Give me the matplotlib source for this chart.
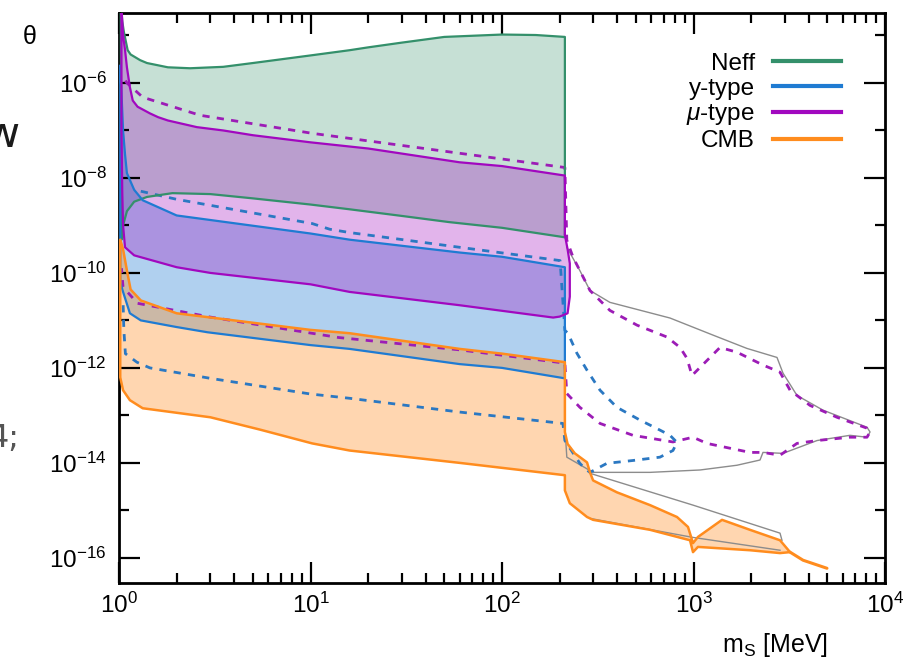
import numpy as np
import matplotlib
matplotlib.use('Agg')
import matplotlib.pyplot as plt
from matplotlib.lines import Line2D
from matplotlib.ticker import LogLocator, NullFormatter, FixedLocator

plt.rcParams['font.family'] = ['Liberation Sans', 'DejaVu Sans']
plt.rcParams['mathtext.fontset'] = 'custom'
plt.rcParams['mathtext.rm'] = 'Liberation Sans'
plt.rcParams['mathtext.it'] = 'Liberation Sans:italic'
plt.rcParams['mathtext.bf'] = 'Liberation Sans:bold'

# ---------------- data (x: m_S in MeV, y: log10 theta) ----------------
neff_hi_x = [1.02, 1.04, 1.06, 1.075, 1.11, 1.15, 1.29, 1.4, 1.8, 2.35, 3.5, 5, 10, 16, 20, 30, 50, 100, 150, 213]
neff_hi_log = [-4.3, -4.7, -4.92, -5.04, -5.31, -5.4, -5.52, -5.58, -5.67, -5.69, -5.66, -5.58, -5.42, -5.31,
               -5.25, -5.15, -5.03, -4.98, -4.99, -5.03]
neff_lo_x = [1.03, 1.05, 1.1, 1.2, 1.4, 1.9, 3, 5, 10, 16, 30, 53, 100, 213]
neff_lo_log = [-9.3, -9.0, -8.7, -8.5, -8.4, -8.32, -8.34, -8.43, -8.56, -8.66, -8.8, -8.93, -9.05, -9.25]

mu_hi_x = [1.03, 1.05, 1.075, 1.1, 1.14, 1.18, 1.25, 1.45, 1.6, 1.8, 2.55, 3.5, 5, 10, 20, 60, 100, 213]
mu_hi_log = [-4.4, -5.0, -5.3, -5.67, -6.09, -6.37, -6.5, -6.64, -6.72, -6.79, -6.93, -7.0, -7.1, -7.25,
             -7.38, -7.67, -7.75, -7.95]
mu_lo_x = [1.03, 1.04, 1.05, 1.075, 1.2, 2.0, 3.0, 10, 16, 60, 185, 200, 220, 226, 226, 220, 213]
mu_lo_log = [-7.0, -8.3, -9.0, -9.46, -9.63, -9.88, -10.0, -10.24, -10.4, -10.68, -10.94, -10.92, -10.85,
             -10.5, -9.8, -9.5, -9.2]

y_hi_x = [1.015, 1.03, 1.05, 1.075, 1.1, 1.2, 1.33, 2.0, 10, 16, 60, 100, 213]
y_hi_log = [-5.63, -6.2, -7.0, -7.5, -7.9, -8.25, -8.47, -8.79, -9.17, -9.3, -9.57, -9.66, -9.88]
y_lo_x = [1.015, 1.05, 1.14, 1.3, 2.0, 2.9, 10, 16, 60, 100, 213]
y_lo_log = [-10.2, -10.4, -10.85, -11.0, -11.14, -11.25, -11.52, -11.6, -11.92, -12.0, -12.22]

cmb_hi_x = [1.015, 1.05, 1.1, 1.15, 1.3, 2.0, 10, 16, 60, 100, 213, 213, 220, 240, 278, 288, 299, 398,
            593, 820, 936, 994, 1055, 1409, 1972, 2830, 3193, 3732, 4977]
cmb_hi_log = [-9.3, -9.5, -9.95, -10.35, -10.58, -10.85, -11.2, -11.27, -11.6, -11.7, -11.88, -13.35, -13.6,
              -13.8, -13.99, -14.2, -14.37, -14.62, -14.89, -15.14, -15.35, -15.69, -15.56, -15.2, -15.41,
              -15.63, -15.88, -16.05, -16.22]
cmb_lo_x = [1.015, 1.05, 1.14, 1.33, 3.0, 5.45, 10.2, 16, 60, 213, 213, 226, 278, 299, 593, 959, 994, 1055,
            1972, 2830, 3193]
cmb_lo_log = [-12.2, -12.47, -12.68, -12.85, -13.04, -13.3, -13.59, -13.74, -14.0, -14.26, -14.58, -14.85,
              -15.14, -15.2, -15.41, -15.63, -15.88, -15.77, -15.84, -15.9, -15.88]

mu_dash_x = [1.08, 1.1, 1.33, 2.65, 10.2, 60, 213, 218, 235, 288, 366, 507, 727, 851, 925, 982, 1082, 1375,
             1687, 2306, 2830, 3193, 4058, 5612, 8054, 8355, 8054, 6561, 4416, 3470, 2830, 2306, 1972, 1175,
             994, 781, 483, 325, 255, 218, 213, 60, 14, 3.0, 1.25, 1.05, 1.03]
mu_dash_log = [-5.95, -6.0, -6.3, -6.68, -7.06, -7.48, -7.78, -9.31, -9.67, -10.37, -10.79, -11.1, -11.35,
               -11.57, -11.8, -12.16, -11.99, -11.57, -11.67, -11.94, -12.09, -12.47, -12.79, -13.04, -13.27,
               -13.35, -13.46, -13.46, -13.53, -13.59, -13.84, -13.78, -13.78, -13.59, -13.46, -13.56, -13.42,
               -13.17, -12.83, -12.54, -11.9, -11.62, -11.36, -10.93, -10.64, -10.3, -9.9]

y_dash_x = [1.3, 2.0, 10.2, 12.6, 16, 60, 201, 213, 221, 246, 278, 325, 398, 526, 668, 754, 820, 781, 668, 483,
            353, 288, 271, 255, 213, 208, 60, 16, 10, 3, 1.45, 1.24, 1.08, 1.06, 1.05]
y_dash_log = [-8.28, -8.45, -8.96, -9.08, -9.15, -9.46, -9.74, -11.21, -11.27, -11.69, -12.05, -12.47, -12.83,
              -13.1, -13.31, -13.42, -13.57, -13.74, -13.88, -13.95, -14.01, -14.2, -14.12, -14.01, -13.53,
              -13.17, -12.93, -12.64, -12.55, -12.22, -12.0, -11.88, -11.7, -11.2, -10.6]

gray_a_x = [218, 255, 271, 288, 366, 754, 1265, 1901, 2729, 2933, 3470, 4745, 8054, 8355, 8054, 6561, 4416,
            2933, 2306, 2225, 1687, 1082, 593, 299, 218, 213]
gray_a_log = [-9.46, -9.95, -10.16, -10.37, -10.62, -10.95, -11.31, -11.59, -11.78, -12.11, -12.58, -12.89,
              -13.25, -13.35, -13.46, -13.42, -13.53, -13.8, -13.78, -13.94, -14.05, -14.15, -14.2, -14.2,
              -13.88, -13.25]
gray_b_x = [288, 994, 2830, 2897]
gray_b_log = [-14.22, -14.89, -15.48, -15.63]
gray_c_x = [288, 994, 2830]
gray_c_log = [-15.17, -15.57, -15.84]

legend_labels = ['Neff', 'y-type', r'$\mu$-type', 'CMB']
xtick_exps = [0, 1, 2, 3, 4]
ytick_exps = [-16, -14, -12, -10, -8, -6]
yminor_exps = [-15, -13, -11, -9, -7, -5]

# ---------------- style ----------------
c_green = '#34906b'
c_blue = '#1f7bd2'
c_mag = '#a108bf'
c_orange = '#ff8c1e'
c_gray = '#8c8c8c'
c_mag_d = '#9c1cb6'
c_blue_d = '#2b78c2'

fig = plt.figure(figsize=(9.19, 6.64), dpi=100)
ax = fig.add_axes([119 / 919, 1 - 583 / 664, (885 - 119) / 919, (583 - 12.7) / 664])
ax.set_xscale('log')
ax.set_yscale('log')
ax.set_xlim(1, 1e4)
ax.set_ylim(10 ** -16.53, 10 ** -4.52)


def band(xh, lh, xl, ll, color, alpha, lw=1.6):
    xs = np.concatenate([np.asarray(xh, float), np.asarray(xl, float)[::-1]])
    ys = 10.0 ** np.concatenate([np.asarray(lh, float), np.asarray(ll, float)[::-1]])
    ax.fill(xs, ys, facecolor=color, alpha=alpha, edgecolor='none', zorder=1)
    ax.fill(xs, ys, facecolor='none', edgecolor=color, lw=lw, zorder=6, joinstyle='round')


band(neff_hi_x, neff_hi_log, neff_lo_x, neff_lo_log, c_green, 0.28)
band(y_hi_x, y_hi_log, y_lo_x, y_lo_log, c_blue, 0.35)
band(mu_hi_x, mu_hi_log, mu_lo_x, mu_lo_log, c_mag, 0.30)

cx = np.asarray(cmb_hi_x, float)
cl = np.asarray(cmb_hi_log, float)
m = cx <= cmb_lo_x[-1]
band(cx[m], cl[m], cmb_lo_x, cmb_lo_log, c_orange, 0.35, lw=1.8)
tail = cx >= cmb_lo_x[-1]
ax.plot(cx[tail], 10.0 ** cl[tail], color=c_orange, lw=2.2, zorder=6, solid_capstyle='round')

# gray thin lines
for gx, gl in [(gray_a_x, gray_a_log), (gray_b_x, gray_b_log), (gray_c_x, gray_c_log)]:
    ax.plot(gx, 10.0 ** np.asarray(gl), color=c_gray, lw=1.0, zorder=3)

# dashed contours
ax.plot(mu_dash_x, 10.0 ** np.asarray(mu_dash_log), color=c_mag_d, lw=2.0, dashes=(2.6, 2.6), zorder=4)
ax.plot(y_dash_x, 10.0 ** np.asarray(y_dash_log), color=c_blue_d, lw=2.0, dashes=(2.6, 2.6), zorder=4)

# ticks
ax.xaxis.set_major_locator(FixedLocator([10.0 ** e for e in xtick_exps]))
ax.xaxis.set_minor_locator(LogLocator(base=10, subs=np.arange(2, 10)))
ax.xaxis.set_minor_formatter(NullFormatter())
ax.set_xticklabels([r'$\mathregular{10^{%d}}$' % e for e in xtick_exps])
ax.yaxis.set_major_locator(FixedLocator([10.0 ** e for e in ytick_exps]))
ax.yaxis.set_minor_locator(FixedLocator([10.0 ** e for e in yminor_exps]))
ax.yaxis.set_minor_formatter(NullFormatter())
ax.set_yticklabels([r'$\mathregular{10^{%d}}$' % e for e in ytick_exps])

ax.tick_params(which='both', direction='in', top=True, right=True, width=1.6, colors='black', labelsize=17.5)
ax.tick_params(which='major', length=15)
ax.tick_params(which='minor', length=7.5)
ax.tick_params(axis='x', which='major', pad=7)
ax.tick_params(axis='y', which='major', pad=9)
for s in ax.spines.values():
    s.set_linewidth(2.0)

# legend
handles = [Line2D([], [], color=c, lw=3.0) for c in [c_green, c_blue, c_mag, c_orange]]
ax.legend(handles, legend_labels, loc='upper right', bbox_to_anchor=(0.9426, 0.93), markerfirst=False,
          frameon=False, fontsize=17.5, handlelength=2.8, handletextpad=0.75, labelspacing=0.12,
          borderpad=0, borderaxespad=0)

# labels
fig.text(30 / 919, 1 - 37 / 664, 'θ', ha='center', va='center', fontsize=18)
fig.text(775 / 919, 1 - 652 / 664, r'$\mathregular{m_S}$ [MeV]', ha='center', va='baseline', fontsize=18)

# cropped neighbouring text visible at the left edge of the screenshot
fig.text(-16 / 919, 1 - 147 / 664, 'w', ha='left', va='baseline', fontsize=31, color='#1a1a1a',
         family='DejaVu Sans')
fig.text(19 / 919, 1 - 447 / 664, '4;', ha='right', va='baseline', fontsize=23, color='#555555',
         family='DejaVu Sans')

fig.savefig('out.png', dpi=100)
